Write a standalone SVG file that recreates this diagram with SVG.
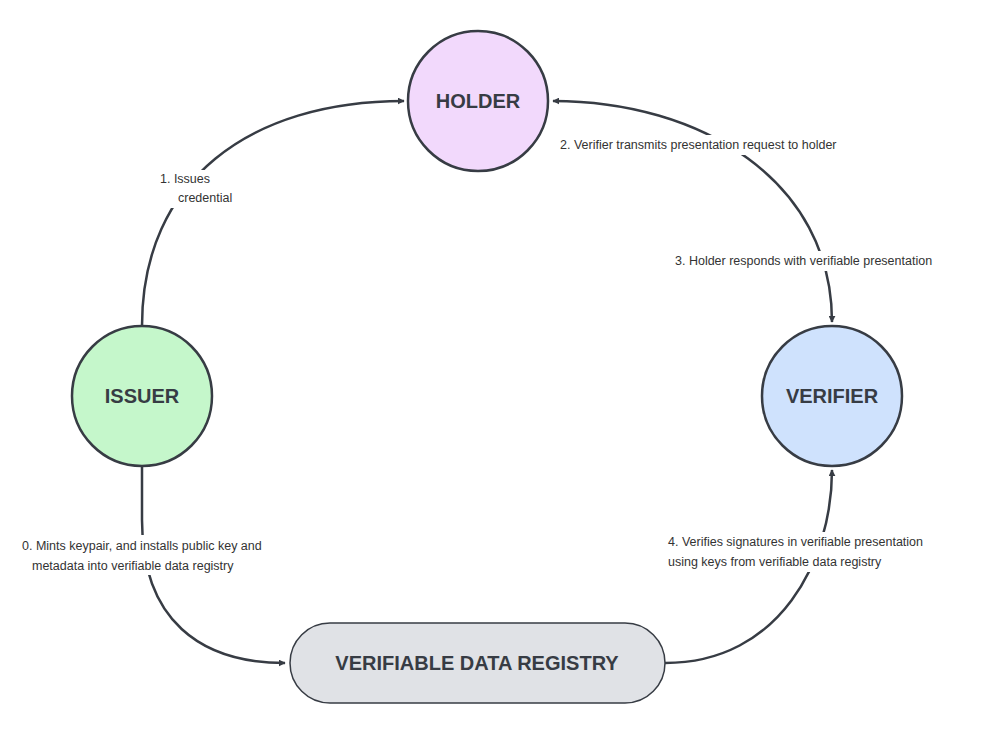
<svg xmlns="http://www.w3.org/2000/svg" width="1000" height="737" viewBox="0 0 1000 737">
<style>
.n{stroke:#373c44;stroke-width:2.5}
.nt{font-family:"Liberation Sans",sans-serif;font-weight:bold;font-size:20px;fill:#373c44;text-anchor:middle;dominant-baseline:central}
.e{fill:none;stroke:#373c44;stroke-width:2.5}
.lt{font-family:"Liberation Sans",sans-serif;font-size:12.5px;fill:#333}
.lb{fill:#fff}
</style>
<defs>
<marker id="a" viewBox="0 0 10 10" refX="9" refY="5" markerWidth="7" markerHeight="7" markerUnits="userSpaceOnUse" orient="auto-start-reverse"><path d="M0,0 L10,5 L0,10 z" fill="#373c44"/></marker>
</defs>
<rect width="1000" height="737" fill="#fff"/>
<g id="connectors">
<path class="e" d="M142,326 C142,180 250,101 404,101" marker-end="url(#a)" style="marker-end:url(#a)"/>
<path class="e" d="M553,101 C700,101 832,180 832,322" marker-start="url(#a)" marker-end="url(#a)"/>
<path class="e" d="M142,466 L142,520 C142,620 200,663 285,663" marker-end="url(#a)"/>
<path class="e" d="M665,663 C780,663 832,560 832,470" marker-end="url(#a)"/>
<rect class="lb" x="156" y="170" width="90" height="38"/>
<text class="lt" x="160" y="183">1.  Issues</text>
<text class="lt" x="178" y="202">credential</text>
<rect class="lb" x="556" y="135" width="334" height="20"/>
<text class="lt" x="560" y="149">2. Verifier transmits presentation request to holder</text>
<rect class="lb" x="671" y="251" width="302" height="20"/>
<text class="lt" x="675" y="265">3. Holder responds with verifiable presentation</text>
<rect class="lb" x="20" y="535" width="276" height="40"/>
<text class="lt" x="22" y="550">0. Mints keypair, and installs public key and</text>
<text class="lt" x="32" y="570">metadata into verifiable data registry</text>
<rect class="lb" x="665" y="532" width="306" height="40"/>
<text class="lt" x="668" y="546">4. Verifies signatures in verifiable presentation</text>
<text class="lt" x="668" y="566">using keys from verifiable data registry</text>
</g>
<g id="holder"><circle class="n" cx="478" cy="101" r="70" fill="#f2d9fc"/><text class="nt" x="478" y="101">HOLDER</text></g>
<g id="issuer"><circle class="n" cx="142" cy="396" r="70" fill="#c5f7cb"/><text class="nt" x="142" y="396">ISSUER</text></g>
<g id="verifier"><circle class="n" cx="832" cy="396" r="70" fill="#cfe2fd"/><text class="nt" x="832" y="396">VERIFIER</text></g>
<g id="registry"><rect x="290" y="623" width="375" height="80" rx="40" fill="#e0e2e6" stroke="#373c44" stroke-width="1.5"/><text class="nt" x="477" y="663">VERIFIABLE DATA REGISTRY</text></g>
</svg>
